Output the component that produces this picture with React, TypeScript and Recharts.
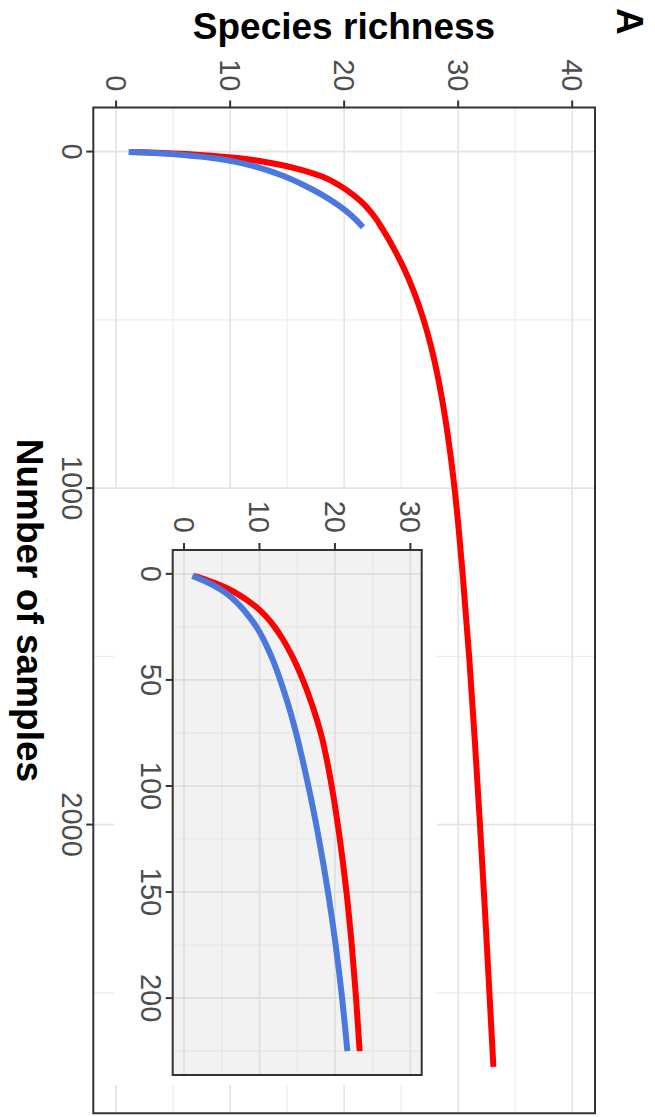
import React from "react";
import {
  LineChart,
  Line,
  XAxis,
  YAxis,
  ReferenceLine,
  ReferenceArea,
  CartesianGrid,
  Label,
} from "recharts";

// red: observed + extrapolated curve, blue: observed curve
const redSamples = [1, 3, 5, 7.5, 10, 15, 20, 25, 30, 40, 50, 62.5, 75, 100, 125, 150, 175, 200, 225, 262.5, 300, 350, 400, 450, 500, 575, 650, 725, 800, 900, 1000, 1250, 1500, 1750, 2000, 2250, 2500, 2720];
const redRichness = [1.3, 3.1, 4.6, 6.1, 7.35, 9.35, 10.85, 12.0, 12.95, 14.5, 15.75, 17.05, 18.12, 19.57, 20.65, 21.53, 22.23, 22.8, 23.28, 23.94, 24.55, 25.28, 25.92, 26.48, 26.97, 27.59, 28.1, 28.53, 28.9, 29.32, 29.68, 30.38, 30.96, 31.46, 31.91, 32.34, 32.74, 33.09];
const blueSamples = [1, 3, 5, 7.5, 10, 15, 20, 25, 30, 40, 50, 62.5, 75, 100, 125, 150, 175, 200, 225];
const blueRichness = [1.1, 2.5, 3.7, 4.9, 5.9, 7.4, 8.6, 9.6, 10.4, 11.7, 12.75, 13.88, 14.85, 16.48, 17.88, 19.08, 20.1, 20.95, 21.65];

const mainSampleTicks = [0, 1000, 2000];
const mainSampleMinor = [500, 1500, 2500];
const mainRichTicks = [0, 10, 20, 30, 40];
const mainRichMinor = [5, 15, 25, 35];
const insetSampleTicks = [0, 50, 100, 150, 200];
const insetSampleMinor = [25, 75, 125, 175, 225];
const insetRichTicks = [0, 10, 20, 30];
const insetRichMinor = [5, 15, 25];
const insetMaxSamples = 225;

const redData = redSamples.map((s, i) => ({ samples: s, richness: redRichness[i] }));
const blueData = blueSamples.map((s, i) => ({ samples: s, richness: blueRichness[i] }));
const redInset = redData.filter((d) => d.samples <= insetMaxSamples);

const FONT = "'Liberation Sans', Arial, Helvetica, sans-serif";
const RED = "#FF0000";
const BLUE = "#4A78DC";

// chart is drawn unrotated (1117 x 655) and then turned 90deg clockwise
const W = 1117;
const H = 655;
const mainX: [number, number] = [-131, 2858];
const mainY: [number, number] = [-2, 42];
const insetX: [number, number] = [-11.25, 236.25];
const insetY: [number, number] = [-1.5, 31.5];

const tickStyle = { fill: "#4D4D4D", fontSize: 29, fontFamily: FONT };
const tickLineStyle = { stroke: "#333333", strokeWidth: 2 };

function grid(xs: number[], ys: number[], color: string, width: number, key: string) {
  return [
    ...xs.map((v) => (
      <ReferenceLine key={key + "x" + v} x={v} stroke={color} strokeWidth={width} zIndex={-50} />
    )),
    ...ys.map((v) => (
      <ReferenceLine key={key + "y" + v} y={v} stroke={color} strokeWidth={width} zIndex={-50} />
    )),
  ];
}

export default function App() {
  return (
    <div
      style={{
        position: "absolute",
        left: 0,
        top: 0,
        width: H,
        height: W,
        overflow: "hidden",
        background: "#fff",
        fontFamily: FONT,
      }}
    >
      <div
        style={{
          position: "absolute",
          left: 0,
          top: 0,
          width: W,
          height: H,
          transformOrigin: "0 0",
          transform: `translateX(${H}px) rotate(90deg)`,
        }}
      >
        <LineChart width={W} height={H} margin={{ top: 60, right: 3.7, bottom: 0, left: 0 }}>
          <XAxis
            type="number"
            dataKey="samples"
            domain={mainX}
            ticks={mainSampleTicks}
            interval={0}
            height={93.3}
            axisLine={false}
            tickSize={7}
            tickMargin={4}
            tickLine={tickLineStyle}
            tick={tickStyle}
            allowDataOverflow
          >
            <Label
              content={() => (
                <text x={107.5 + 1005.8 / 2} y={638} textAnchor="middle" fontSize={37} fontWeight="bold" fill="#000" fontFamily={FONT}>
                  Number of samples
                </text>
              )}
            />
          </XAxis>
          <YAxis
            type="number"
            dataKey="richness"
            domain={mainY}
            ticks={mainRichTicks}
            interval={0}
            width={107.5}
            axisLine={false}
            tickSize={7}
            tickMargin={9}
            tickLine={tickLineStyle}
            tick={tickStyle}
            allowDataOverflow
          >
            <Label
              content={() => (
                <g>
                  <text x={39} y={311} transform="rotate(-90 39 311)" textAnchor="middle" fontSize={37} fontWeight="bold" fill="#000" fontFamily={FONT}>
                    Species richness
                  </text>
                  <text x={8} y={38} fontSize={37} fontWeight="bold" fill="#000" fontFamily={FONT}>
                    A
                  </text>
                </g>
              )}
            />
          </YAxis>
          <CartesianGrid horizontal={false} vertical={false} fill="#FFFFFF" />
          {grid(mainSampleMinor, mainRichMinor, "#EDEDED", 1.2, "mm")}
          {grid(mainSampleTicks, mainRichTicks, "#E4E4E4", 1.6, "mj")}
          <Line data={redData} dataKey="richness" type="monotone" stroke={RED} strokeWidth={6} dot={false} activeDot={false} isAnimationActive={false} />
          <Line data={blueData} dataKey="richness" type="monotone" stroke={BLUE} strokeWidth={6} dot={false} activeDot={false} isAnimationActive={false} />
          <ReferenceArea x1={mainX[0]} x2={mainX[1]} y1={mainY[0]} y2={mainY[1]} fill="none" stroke="#333333" strokeWidth={2} ifOverflow="visible" />
        </LineChart>

        <div style={{ position: "absolute", left: 489, top: 218, width: 596, height: 323, background: "#fff" }}>
          <LineChart width={596} height={323} margin={{ top: 15.3, right: 10, bottom: 0, left: 0 }}>
            <XAxis
              type="number"
              dataKey="samples"
              domain={insetX}
              ticks={insetSampleTicks}
              interval={0}
              height={58.7}
              axisLine={false}
              tickSize={7}
              tickMargin={4}
              tickLine={tickLineStyle}
              tick={tickStyle}
              allowDataOverflow
            />
            <YAxis
              type="number"
              dataKey="richness"
              domain={insetY}
              ticks={insetRichTicks}
              interval={0}
              width={61}
              axisLine={false}
              tickSize={7}
              tickMargin={10}
              tickLine={tickLineStyle}
              tick={tickStyle}
              allowDataOverflow
            />
            <CartesianGrid horizontal={false} vertical={false} fill="#F2F2F2" fillOpacity={1} />
            {grid(insetSampleMinor, insetRichMinor, "#E6E6E6", 1.2, "im")}
            {grid(insetSampleTicks, insetRichTicks, "#DEDEDE", 1.6, "ij")}
            <Line data={redInset} dataKey="richness" type="monotone" stroke={RED} strokeWidth={6} dot={false} activeDot={false} isAnimationActive={false} />
            <Line data={blueData} dataKey="richness" type="monotone" stroke={BLUE} strokeWidth={6} dot={false} activeDot={false} isAnimationActive={false} />
            <ReferenceArea x1={insetX[0]} x2={insetX[1]} y1={insetY[0]} y2={insetY[1]} fill="none" stroke="#333333" strokeWidth={2} ifOverflow="visible" />
          </LineChart>
        </div>
      </div>
    </div>
  );
}
